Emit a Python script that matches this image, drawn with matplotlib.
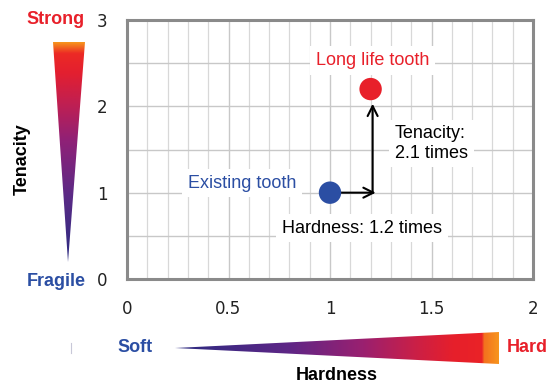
import numpy as np
import matplotlib
matplotlib.use("Agg")
import matplotlib.pyplot as plt
from matplotlib.colors import LinearSegmentedColormap
from matplotlib.patches import Polygon

# ---- data ----
point_names = ["Existing tooth", "Long life tooth"]
hardness = [1.0, 1.2]
tenacity = [1.0, 2.2]
point_colors = ["#2b4ea3", "#e8202a"]
hard_ratio_label = "Hardness: 1.2 times"
ten_ratio_label = "Tenacity:\n2.1 times"
x_ticks = [0, 0.5, 1, 1.5, 2]
x_tick_labels = ["0", "0.5", "1", "1.5", "2"]
y_ticks = [0, 1, 2, 3]
y_tick_labels = ["0", "1", "2", "3"]

W, H = 555, 383
fig = plt.figure(figsize=(W / 100, H / 100), dpi=100)
fig.patch.set_facecolor("white")

ax = fig.add_axes([127 / W, (H - 279) / H, 406 / W, 259 / H])
ax.set_xlim(0, 2)
ax.set_ylim(0, 3)
ax.set_xticks(x_ticks)
ax.set_xticklabels(x_tick_labels)
ax.set_yticks(y_ticks)
ax.set_yticklabels(y_tick_labels)
ax.set_xticks(np.arange(0, 2.01, 0.1), minor=True)
ax.set_yticks(np.arange(0, 3.01, 0.5), minor=True)
ax.tick_params(which="both", length=0)
ax.tick_params(axis="x", pad=15, labelsize=12, labelcolor="#222222")
ax.tick_params(axis="y", pad=14, labelsize=12, labelcolor="#222222")
ax.grid(which="minor", axis="x", color="#d8d8d8", lw=0.9)
ax.grid(which="minor", axis="y", color="#c8c8c8", lw=1.0)
ax.grid(which="major", axis="both", color="#c8c8c8", lw=1.0)
ax.set_axisbelow(True)
for s in ax.spines.values():
    s.set_color("#8a8a8a")
    s.set_linewidth(2.2)

# arrows
ax.annotate("", xy=(hardness[1] + 0.025, tenacity[0]), xytext=(hardness[0], tenacity[0]),
            arrowprops=dict(arrowstyle="->", color="black", lw=1.5, mutation_scale=18,
                            shrinkA=0, shrinkB=0), zorder=3)
ax.annotate("", xy=(hardness[1] + 0.01, tenacity[1] - 0.17), xytext=(hardness[1] + 0.01, tenacity[0]),
            arrowprops=dict(arrowstyle="->", color="black", lw=1.5, mutation_scale=18,
                            shrinkA=0, shrinkB=0), zorder=3)

ax.scatter(hardness, tenacity, s=260, c=point_colors, zorder=4, edgecolors="none")

tfont = dict(family="Liberation Sans", fontsize=13)
bb = dict(facecolor="white", edgecolor="none", pad=4)
ax.text(1.21, 2.53, point_names[1], color=point_colors[1], ha="center", va="center", bbox=bb, zorder=2, **tfont)
ax.text(0.567, 1.11, point_names[0], color=point_colors[0], ha="center", va="center", bbox=bb, zorder=2, **tfont)
ax.text(1.32, 1.57, ten_ratio_label, color="black", ha="left", va="center", bbox=bb, zorder=2,
        linespacing=1.2, **tfont)
ax.text(1.158, 0.59, hard_ratio_label, color="black", ha="center", va="center", bbox=bb, zorder=2, **tfont)

# ---- decoration overlay (gradient wedges and labels) ----
ov = fig.add_axes([0, 0, 1, 1], zorder=-1)
ov.set_xlim(0, W)
ov.set_ylim(H, 0)
ov.axis("off")

cmap = LinearSegmentedColormap.from_list("ten", [
    (0.0, "#2a2a80"), (0.3, "#5b2a86"), (0.55, "#8f2177"), (0.72, "#c01f52"),
    (0.86, "#e31f30"), (0.95, "#ec2a25"), (1.0, "#f7941d")])

# vertical wedge
grad_v = np.linspace(1, 0, 256).reshape(-1, 1)
im1 = ov.imshow(grad_v, cmap=cmap, extent=(53, 85, 262, 42), aspect="auto", interpolation="bilinear")
tri1 = Polygon([(53, 42), (85, 42), (68, 262)], closed=True, transform=ov.transData)
im1.set_clip_path(tri1)

# horizontal wedge
cmap_h = LinearSegmentedColormap.from_list("hard", [
    (0.0, "#2a2a80"), (0.35, "#5e2686"), (0.58, "#9a2070"), (0.75, "#cc1f45"),
    (0.86, "#e61f2b"), (0.95, "#ea2327"), (0.955, "#f3701f"), (1.0, "#f7941d")])
grad_h = np.linspace(0, 1, 512).reshape(1, -1)
im2 = ov.imshow(grad_h, cmap=cmap_h, extent=(175, 499, 364, 332), aspect="auto", interpolation="bilinear")
tri2 = Polygon([(175, 348), (499, 332), (499, 364)], closed=True, transform=ov.transData)
im2.set_clip_path(tri2)
ov.set_xlim(0, W)
ov.set_ylim(H, 0)

bfont = dict(family="Liberation Sans", fontsize=13, fontweight="bold")
ov.text(56, 20, "Strong", color="#e8202a", ha="center", va="center", **bfont)
ov.text(56, 281, "Fragile", color="#2b4ea3", ha="center", va="center", **bfont)
ov.text(22, 159, "Tenacity", color="black", ha="center", va="center", rotation=90, **bfont)
ov.text(135, 348, "Soft", color="#2b4ea3", ha="center", va="center", **bfont)
ov.text(527, 347, "Hard", color="#e8202a", ha="center", va="center", **bfont)
ov.text(337, 375, "Hardness", color="black", ha="center", va="center", **bfont)
ov.plot([71, 71], [343, 353], color="#c8c8d8", lw=0.8)

fig.savefig("out.png", dpi=100)
